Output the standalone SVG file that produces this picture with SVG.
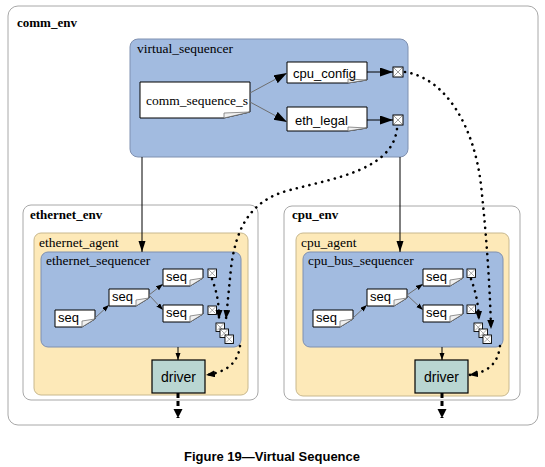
<svg xmlns="http://www.w3.org/2000/svg" xmlns:xlink="http://www.w3.org/1999/xlink" width="545" height="467" viewBox="0 0 545 467">
<style>
.env{fill:#ffffff;stroke:#a8a8a8;stroke-width:1}
.agent{fill:#fde9b8;stroke:#c8b88e;stroke-width:1}
.seqr{fill:#a2bbe0;stroke:#7f90b0;stroke-width:1}
.note{fill:#ffffff;stroke:#000;stroke-width:1}
.fold{fill:#f0f0f0;stroke:#777;stroke-width:0.8}
.drv{fill:#b9d6d2;stroke:#000;stroke-width:1.2}
.lblb{font-family:"Liberation Serif",serif;font-size:13px;font-weight:bold;fill:#000}
.lbl{font-family:"Liberation Serif",serif;font-size:13.5px;fill:#000}
.sans{font-family:"Liberation Sans",Arial,sans-serif;font-size:13px;fill:#000}
.drvt{font-family:"Liberation Sans",Arial,sans-serif;font-size:14px;fill:#000}
.cap{font-family:"Liberation Sans",Arial,sans-serif;font-size:13px;font-weight:bold;fill:#000}
.thin{fill:none;stroke:#6e6e6e;stroke-width:1}
.solid{fill:none;stroke:#000;stroke-width:1}
.dot{fill:none;stroke:#000;stroke-width:2.6;stroke-linecap:round;stroke-dasharray:0.1 6.4}
.dash{fill:none;stroke:#000;stroke-width:3;stroke-dasharray:5 3}
</style>
<defs>
<marker id="aL" markerUnits="userSpaceOnUse" markerWidth="13" markerHeight="10" refX="13" refY="4.5" orient="auto"><path d="M0,0 L13,4.5 L0,9 z" fill="#000"/></marker>
<marker id="aM" markerUnits="userSpaceOnUse" markerWidth="11" markerHeight="8" refX="11" refY="3.5" orient="auto"><path d="M0,0 L11,3.5 L0,7 z" fill="#000"/></marker>
<marker id="aS" markerUnits="userSpaceOnUse" markerWidth="7" markerHeight="6" refX="7" refY="2.5" orient="auto"><path d="M0,0 L7,2.5 L0,5 z" fill="#000"/></marker>
<marker id="aD" markerUnits="userSpaceOnUse" markerWidth="9" markerHeight="8" refX="9" refY="3.5" orient="auto"><path d="M0,0 L9,3.5 L0,7 z" fill="#000"/></marker>
<marker id="aT" markerUnits="userSpaceOnUse" markerWidth="10" markerHeight="10" refX="9" refY="4.5" orient="auto"><path d="M0,0 L9,4.5 L0,9 z" fill="#000"/></marker>
<g id="seqnote"><path class="note" d="M0,0 H40 V9 L27,17 H0 Z"/><path class="fold" d="M27,17 V11 L40,9 Z"/></g>
<g id="xb"><rect x="0" y="0" width="8.5" height="8.5" fill="#fff" stroke="#000" stroke-width="0.9"/><path d="M1,1 L7.5,7.5 M7.5,1 L1,7.5" stroke="#888" stroke-width="0.7"/></g>
<g id="xbL"><rect x="0" y="0" width="10" height="10" fill="#fff" stroke="#000" stroke-width="1"/><path d="M1,1 L9,9 M9,1 L1,9" stroke="#888" stroke-width="0.8"/></g>
</defs>

<g id="comm_env">
<rect class="env" x="8" y="6" width="530" height="419" rx="10"/>
<text class="lblb" x="17" y="27">comm_env</text>
</g>

<g id="virtual_sequencer">
<rect class="seqr" x="130" y="39" width="278" height="118" rx="8"/>
<text class="lbl" x="137" y="53">virtual_sequencer</text>
</g>

<g id="comm_sequence_s">
<path class="note" d="M140,82 H250 V112 L224,118 H140 Z"/>
<path class="fold" d="M224,118 V113 L250,112 Z"/>
<text class="lbl" x="146" y="105">comm_sequence_s</text>
</g>

<g id="cpu_config">
<path class="note" d="M287,62 H367 V80 L348,83 H287 Z"/>
<path class="fold" d="M348,83 V79 L367,80 Z"/>
<text class="sans" x="293" y="78">cpu_config</text>
<use xlink:href="#xbL" x="393" y="67"/>
</g>

<g id="eth_legal">
<path class="note" d="M287,107 H367 V128 L348,131 H287 Z"/>
<path class="fold" d="M348,131 V127 L367,128 Z"/>
<text class="sans" x="295" y="125">eth_legal</text>
<use xlink:href="#xbL" x="393" y="115"/>
</g>

<g id="ethernet_env">
<rect class="env" x="23" y="205" width="235" height="195" rx="8"/>
<text class="lblb" x="30" y="219">ethernet_env</text>
</g>
<g id="ethernet_agent">
<rect class="agent" x="34" y="233" width="214" height="162" rx="7"/>
<text class="lbl" x="39" y="247">ethernet_agent</text>
</g>
<g id="ethernet_sequencer">
<rect class="seqr" x="41" y="252" width="200" height="95" rx="7"/>
<text class="lbl" x="46" y="265">ethernet_sequencer</text>
<use xlink:href="#seqnote" x="55" y="310"/><text class="sans" x="58" y="322">seq</text>
<use xlink:href="#seqnote" x="109" y="289"/><text class="sans" x="112" y="301">seq</text>
<use xlink:href="#seqnote" x="163" y="269"/><text class="sans" x="166" y="281">seq</text>
<use xlink:href="#seqnote" x="163" y="305"/><text class="sans" x="166" y="317">seq</text>
<use xlink:href="#xb" x="208" y="269"/>
<use xlink:href="#xb" x="208" y="306"/>
<use xlink:href="#xb" x="216" y="323"/>
<use xlink:href="#xb" x="220" y="329"/>
<use xlink:href="#xb" x="225" y="335"/>
</g>
<g id="ethernet_driver">
<rect class="drv" x="152" y="360" width="53" height="33"/>
<text class="drvt" x="178.5" y="382" text-anchor="middle">driver</text>
</g>

<g id="cpu_env">
<rect class="env" x="284" y="206" width="236" height="194" rx="8"/>
<text class="lblb" x="292" y="219">cpu_env</text>
</g>
<g id="cpu_agent">
<rect class="agent" x="296" y="233" width="213" height="163" rx="7"/>
<text class="lbl" x="301" y="247">cpu_agent</text>
</g>
<g id="cpu_bus_sequencer">
<rect class="seqr" x="303" y="252" width="200" height="95" rx="7"/>
<text class="lbl" x="308" y="265">cpu_bus_sequencer</text>
<use xlink:href="#seqnote" x="313" y="310"/><text class="sans" x="316" y="322">seq</text>
<use xlink:href="#seqnote" x="367" y="289"/><text class="sans" x="370" y="301">seq</text>
<use xlink:href="#seqnote" x="423" y="269"/><text class="sans" x="426" y="281">seq</text>
<use xlink:href="#seqnote" x="423" y="305"/><text class="sans" x="426" y="317">seq</text>
<use xlink:href="#xb" x="467" y="269"/>
<use xlink:href="#xb" x="467" y="305"/>
<use xlink:href="#xb" x="474" y="323"/>
<use xlink:href="#xb" x="479" y="329"/>
<use xlink:href="#xb" x="483" y="335"/>
</g>
<g id="cpu_driver">
<rect class="drv" x="415" y="360" width="53" height="33"/>
<text class="drvt" x="441.5" y="382" text-anchor="middle">driver</text>
</g>

<g id="connectors">
<path class="thin" d="M250,93 L287,73" marker-end="url(#aL)"/>
<path class="thin" d="M250,102 L287,122" marker-end="url(#aL)"/>
<path class="solid" d="M367,72 L393,72" marker-end="url(#aL)"/>
<path class="solid" d="M367,120 L393,120" marker-end="url(#aL)"/>
<path class="solid" d="M142,157 L142,252" marker-end="url(#aM)"/>
<path class="solid" d="M400,157 L400,252" marker-end="url(#aM)"/>

<path class="thin" d="M95,318 L109,305" marker-end="url(#aS)"/>
<path class="thin" d="M149,295 L163,284" marker-end="url(#aS)"/>
<path class="thin" d="M149,295 L163,310" marker-end="url(#aS)"/>
<path class="thin" d="M353,318 L367,305" marker-end="url(#aS)"/>
<path class="thin" d="M407,295 L423,284" marker-end="url(#aS)"/>
<path class="thin" d="M407,295 L423,310" marker-end="url(#aS)"/>

<path class="solid" d="M178,347 L178,360" marker-end="url(#aS)"/>
<path class="solid" d="M442,347 L442,360" marker-end="url(#aS)"/>
<path class="dash" d="M178,393 L178,418" marker-end="url(#aT)"/>
<path class="dash" d="M442,393 L442,418" marker-end="url(#aT)"/>

<path class="dot" d="M405,72 C445,78 474,125 481,185 C487,240 490,290 491,329" marker-end="url(#aD)"/>
<path class="dot" d="M397,129 C392,170 335,178 290,190 C250,200 236,228 231,268 L226,319" marker-end="url(#aD)"/>
<path class="dot" d="M212,279 C216,290 219,300 219,319" marker-end="url(#aD)"/>
<path class="dot" d="M471,279 C475,290 478,300 479,320" marker-end="url(#aD)"/>
<path class="dot" d="M240,346 C238,362 228,372 206,375" marker-end="url(#aD)"/>
<path class="dot" d="M500,346 C498,362 490,372 469,375" marker-end="url(#aD)"/>
</g>

<text class="cap" x="272" y="461" text-anchor="middle">Figure 19—Virtual Sequence</text>
</svg>
